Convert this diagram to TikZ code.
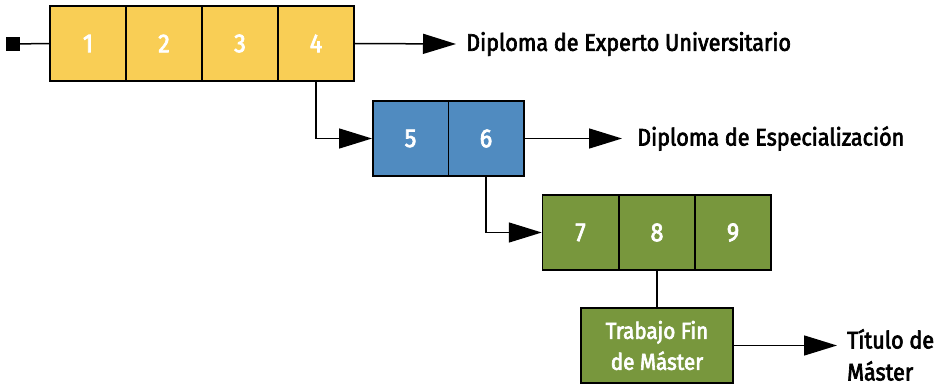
\documentclass[tikz,border=0pt]{standalone}
\usepackage{fontspec}
\setmainfont{Fira Sans}[FakeStretch=0.9]
\newfontfamily\medfont{Fira Sans}[FakeStretch=0.9, FakeBold=2.8]
\usetikzlibrary{arrows.meta}
\definecolor{cyellow}{HTML}{F9CE55}
\definecolor{cblue}{HTML}{508BC0}
\definecolor{cgreen}{HTML}{78973D}
\tikzset{
  cell/.style={draw=black, line width=1.5pt, minimum width=76pt, minimum height=75pt, inner sep=0pt,
    text=white, font=\medfont\fontsize{26}{30}\selectfont},
  conn/.style={line width=1.5pt},
  arr/.style={conn, -{Triangle[length=33pt,width=20pt]}},
  lbl/.style={anchor=west, inner sep=0pt, font=\medfont\fontsize{24}{32}\selectfont, align=left},
}
\begin{document}
\begin{tikzpicture}[x=1pt,y=-1pt]
\useasboundingbox (0,0) rectangle (943,385);
% yellow
\node[cell, fill=cyellow] (c1) at (88,43.5) {1};
\node[cell, fill=cyellow] (c2) at (164,43.5) {2};
\node[cell, fill=cyellow] (c3) at (240,43.5) {3};
\node[cell, fill=cyellow] (c4) at (316,43.5) {4};
% blue
\node[cell, fill=cblue, minimum width=75.5pt] (c5) at (410.5,138.5) {5};
\node[cell, fill=cblue, minimum width=75.5pt] (c6) at (486,138.5) {6};
% green
\node[cell, fill=cgreen] (c7) at (580.5,232.5) {7};
\node[cell, fill=cgreen] (c8) at (657,232.5) {8};
\node[cell, fill=cgreen] (c9) at (733,232.5) {9};
% TFM
\node[cell, fill=cgreen, minimum width=152pt, align=center, font=\medfont\fontsize{23}{31}\selectfont] (tfm) at (657,345.5) {Trabajo Fin\\de Máster};
% start square
\node[fill=black, minimum size=14pt, inner sep=0pt] (start) at (13,44) {};
% labels
\node[lbl] (l1) at (466,44) {Diploma de Experto Universitario};
\node[lbl] (l2) at (637,138.5) {Diploma de Especialización};
\node[lbl, anchor=north west] (l3) at (847,329) {Título de\\Máster};
\coordinate (e1) at (456,44);
\coordinate (e2) at (622,138.5);
\coordinate (e3) at (837,345.5);
% connectors
\draw[conn] (start) -- (c1.west);
\draw[arr] (c4.east) -- (e1);
\draw[arr] (c4.south) |- (c5.west);
\draw[arr] (c6.east) -- (e2);
\draw[arr] (c6.south) |- (c7.west);
\draw[conn] (c8.south) -- (tfm.north);
\draw[arr] (tfm.east) -- (e3);
\end{tikzpicture}
\end{document}
